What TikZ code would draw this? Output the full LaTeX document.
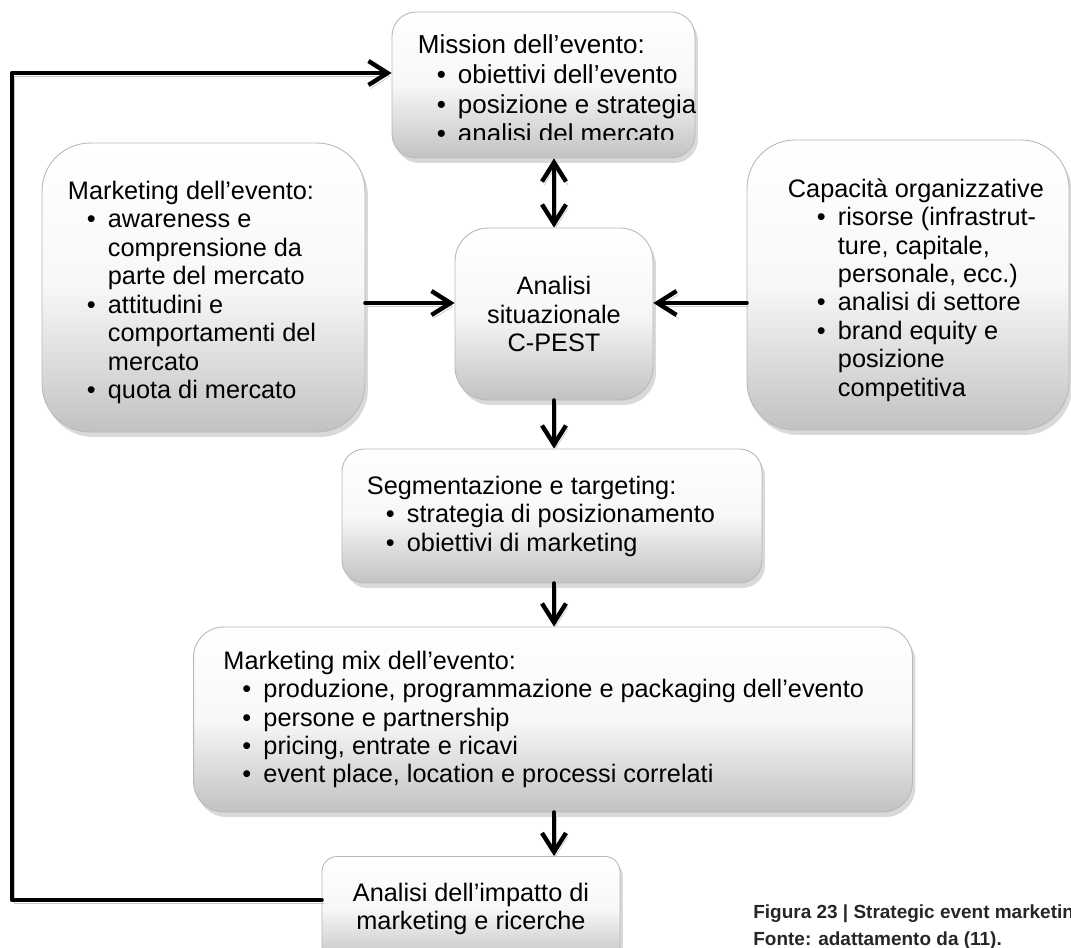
\documentclass[tikz,border=0pt]{standalone}
\usepackage{fontspec}
\setmainfont{Liberation Sans}
\usetikzlibrary{arrows.meta, positioning, shadows, calc}

\newcommand{\boxfont}{\fontsize{14.4pt}{16.2pt}\selectfont}
\newcommand{\itm}{\makebox[0.8cm][l]{\hspace{0.38cm}\textbullet}}
\newcommand{\cnt}{\hspace*{0.8cm}}

\begin{document}
\begin{tikzpicture}[
  x=0.02cm, y=-0.02cm,
  every node/.style={font=\boxfont},
  box/.style={rectangle, draw=black!28, line width=0.5pt, top color=white, bottom color=black!24, middle color=black!3, drop shadow={shadow xshift=0.6mm, shadow yshift=-1mm, opacity=0.3}},
  boxtext/.style={inner sep=0pt, align=left},
  barb/.tip={Straight Barb[length=0.38cm, width=0.48cm]},
  arr/.style={line width=2.5pt, line cap=round, line join=round, -barb,
    preaction={draw=black!22, transform canvas={xshift=0.4mm, yshift=-0.7mm}}},
  caption/.style={inner sep=0pt, align=left, text=black!85, font=\fontsize{10.8pt}{15.4pt}\selectfont\bfseries},
]
\useasboundingbox (0,0) rectangle (1071,947);
\clip (0,0) rectangle (1071,947);

% boxes
\node[box, rounded corners=0.48cm, minimum width=6.06cm, minimum height=2.92cm] (mission) at (543.5,85) {};
\begin{scope}
  \clip ([yshift=0.38cm]mission.south west) rectangle (mission.north east);
  \node[boxtext, anchor=north west, font=\fontsize{14.8pt}{17pt}\selectfont] (missiontxt) at ([xshift=0.52cm, yshift=-0.45cm]mission.north west) {Mission dell’evento:\\\itm obiettivi dell’evento\\\itm posizione e strategia\\\itm analisi del mercato};
\end{scope}

\node[box, rounded corners=0.96cm, minimum width=6.46cm, minimum height=5.78cm] (marketing) at (203.5,287.5) {};
\node[boxtext, anchor=west] (marketingtxt) at ([xshift=0.52cm, yshift=-0.1cm]marketing.west) {Marketing dell’evento:\\\itm awareness e\\\cnt comprensione da\\\cnt parte del mercato\\\itm attitudini e\\\cnt comportamenti del\\\cnt mercato\\\itm quota di mercato};

\node[box, rounded corners=0.96cm, minimum width=6.44cm, minimum height=5.8cm] (capacita) at (908,285) {};
\node[boxtext, anchor=west] (capacitatxt) at ([xshift=0.82cm, yshift=-0.1cm]capacita.west) {Capacità organizzative\\\hspace*{0.2cm}\itm risorse (infrastrut-\\\hspace*{0.2cm}\cnt ture, capitale,\\\hspace*{0.2cm}\cnt personale, ecc.)\\\hspace*{0.2cm}\itm analisi di settore\\\hspace*{0.2cm}\itm brand equity e\\\hspace*{0.2cm}\cnt posizione\\\hspace*{0.2cm}\cnt competitiva};

\node[box, rounded corners=0.66cm, minimum width=3.96cm, minimum height=3.44cm, align=center] (cpest) at (554,314) {Analisi\\situazionale\\C-PEST};

\node[box, rounded corners=0.45cm, minimum width=8.4cm, minimum height=2.68cm] (segment) at (552,516) {};
\node[boxtext, anchor=west] (segmenttxt) at ([xshift=0.5cm]segment.west) {Segmentazione e targeting:\\\itm strategia di posizionamento\\\itm obiettivi di marketing};

\node[box, rounded corners=0.6cm, minimum width=14.38cm, minimum height=3.7cm] (mix) at (553,719.5) {};
\node[boxtext, anchor=west] (mixtxt) at ([xshift=0.6cm]mix.west) {Marketing mix dell’evento:\\\itm produzione, programmazione e packaging dell’evento\\\itm persone e partnership\\\itm pricing, entrate e ricavi\\\itm event place, location e processi correlati};

\node[box, rounded corners=0.3cm, minimum width=5.96cm, minimum height=2.1cm, align=center] (impatto) at (471,909) {Analisi dell’impatto di\\marketing e ricerche};

% connectors
\coordinate (cpestin) at ([yshift=0.22cm]cpest.center);
\draw[arr] (marketing.east |- cpestin) -- (cpest.west |- cpestin);
\draw[arr] (capacita.west |- cpestin) -- (cpest.east |- cpestin);
\draw[arr, barb-barb] (cpest.north) -- (cpest.north |- mission.south);
\draw[arr] (cpest.south) -- (cpest.south |- segment.north);
\draw[arr] (cpest.south |- segment.south) -- (cpest.south |- mix.north);
\draw[arr] (cpest.south |- mix.south) -- (cpest.south |- impatto.north);

\coordinate (loopleft) at (12,900);
\coordinate (missionin) at ([yshift=0.24cm]mission.west);
\draw[arr] (impatto.west |- loopleft) -- (loopleft) |- (missionin);

\node[caption, anchor=north west] (caption) at (753,904) {Figura 23 | Strategic event marketing\\Fonte: adattamento da (11).};
\end{tikzpicture}
\end{document}
